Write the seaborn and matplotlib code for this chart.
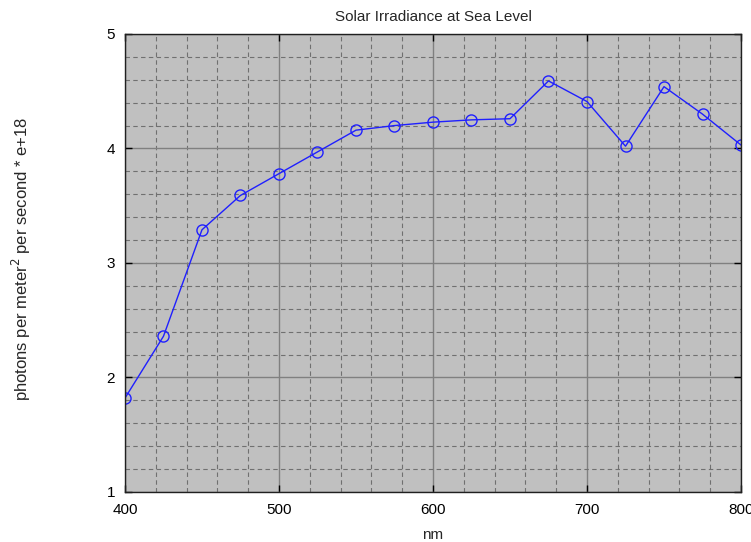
import pandas as pd
import matplotlib
matplotlib.use("Agg")
import matplotlib.pyplot as plt
import seaborn as sns
from matplotlib.ticker import MultipleLocator

sns.set_theme(style="white")
plt.rcParams["font.family"] = ["Liberation Sans", "DejaVu Sans"]

# Values
wavelength_nm = [400, 425, 450, 475, 500, 525, 550, 575, 600, 625, 650,
                 675, 700, 725, 750, 775, 800]
irradiance = [1.82, 2.36, 3.29, 3.59, 3.78, 3.97, 4.16, 4.20, 4.23, 4.25, 4.26,
              4.59, 4.41, 4.02, 4.54, 4.30, 4.03]

df = pd.DataFrame({"nm": wavelength_nm, "irr": irradiance})

fig = plt.figure(figsize=(7.51, 5.42), dpi=100)
ax = fig.add_axes([0.1664, 0.0923, 0.8203, 0.845])
ax.set_facecolor("#c0c0c0")

sns.lineplot(data=df, x="nm", y="irr", ax=ax, color="#1f1fff", linewidth=1,
             marker="o", markersize=8, markerfacecolor="none",
             markeredgecolor="#1f1fff", markeredgewidth=1)

ax.set_xlim(400, 800)
ax.set_ylim(1, 5)
ax.xaxis.set_major_locator(MultipleLocator(100))
ax.xaxis.set_minor_locator(MultipleLocator(20))
ax.yaxis.set_major_locator(MultipleLocator(1))
ax.yaxis.set_minor_locator(MultipleLocator(0.2))

ax.grid(which="major", color="#808080", linestyle="-", linewidth=1)
ax.grid(which="minor", color="#707070", linestyle=(0, (4, 3)), linewidth=0.8)
ax.set_axisbelow(True)

ax.tick_params(which="both", direction="in", labelsize=11, colors="black",
               left=True, bottom=True, right=True, top=True)
ax.tick_params(which="major", length=5, width=1)
ax.tick_params(axis="x", which="major", pad=8)
ax.tick_params(axis="y", which="major", pad=7)
ax.tick_params(which="minor", length=0)
for s in ax.spines.values():
    s.set_color("#202020")
    s.set_linewidth(1)

ax.set_title("Solar Irradiance at Sea Level", fontsize=11, pad=9)
ax.set_xlabel("nm", fontsize=11, labelpad=8)
ax.set_ylabel("photons per meter$^2$ per second * e+18", fontsize=12)
ax.yaxis.set_label_coords(-0.150, 0.51)

fig.savefig("out.png", dpi=100)
